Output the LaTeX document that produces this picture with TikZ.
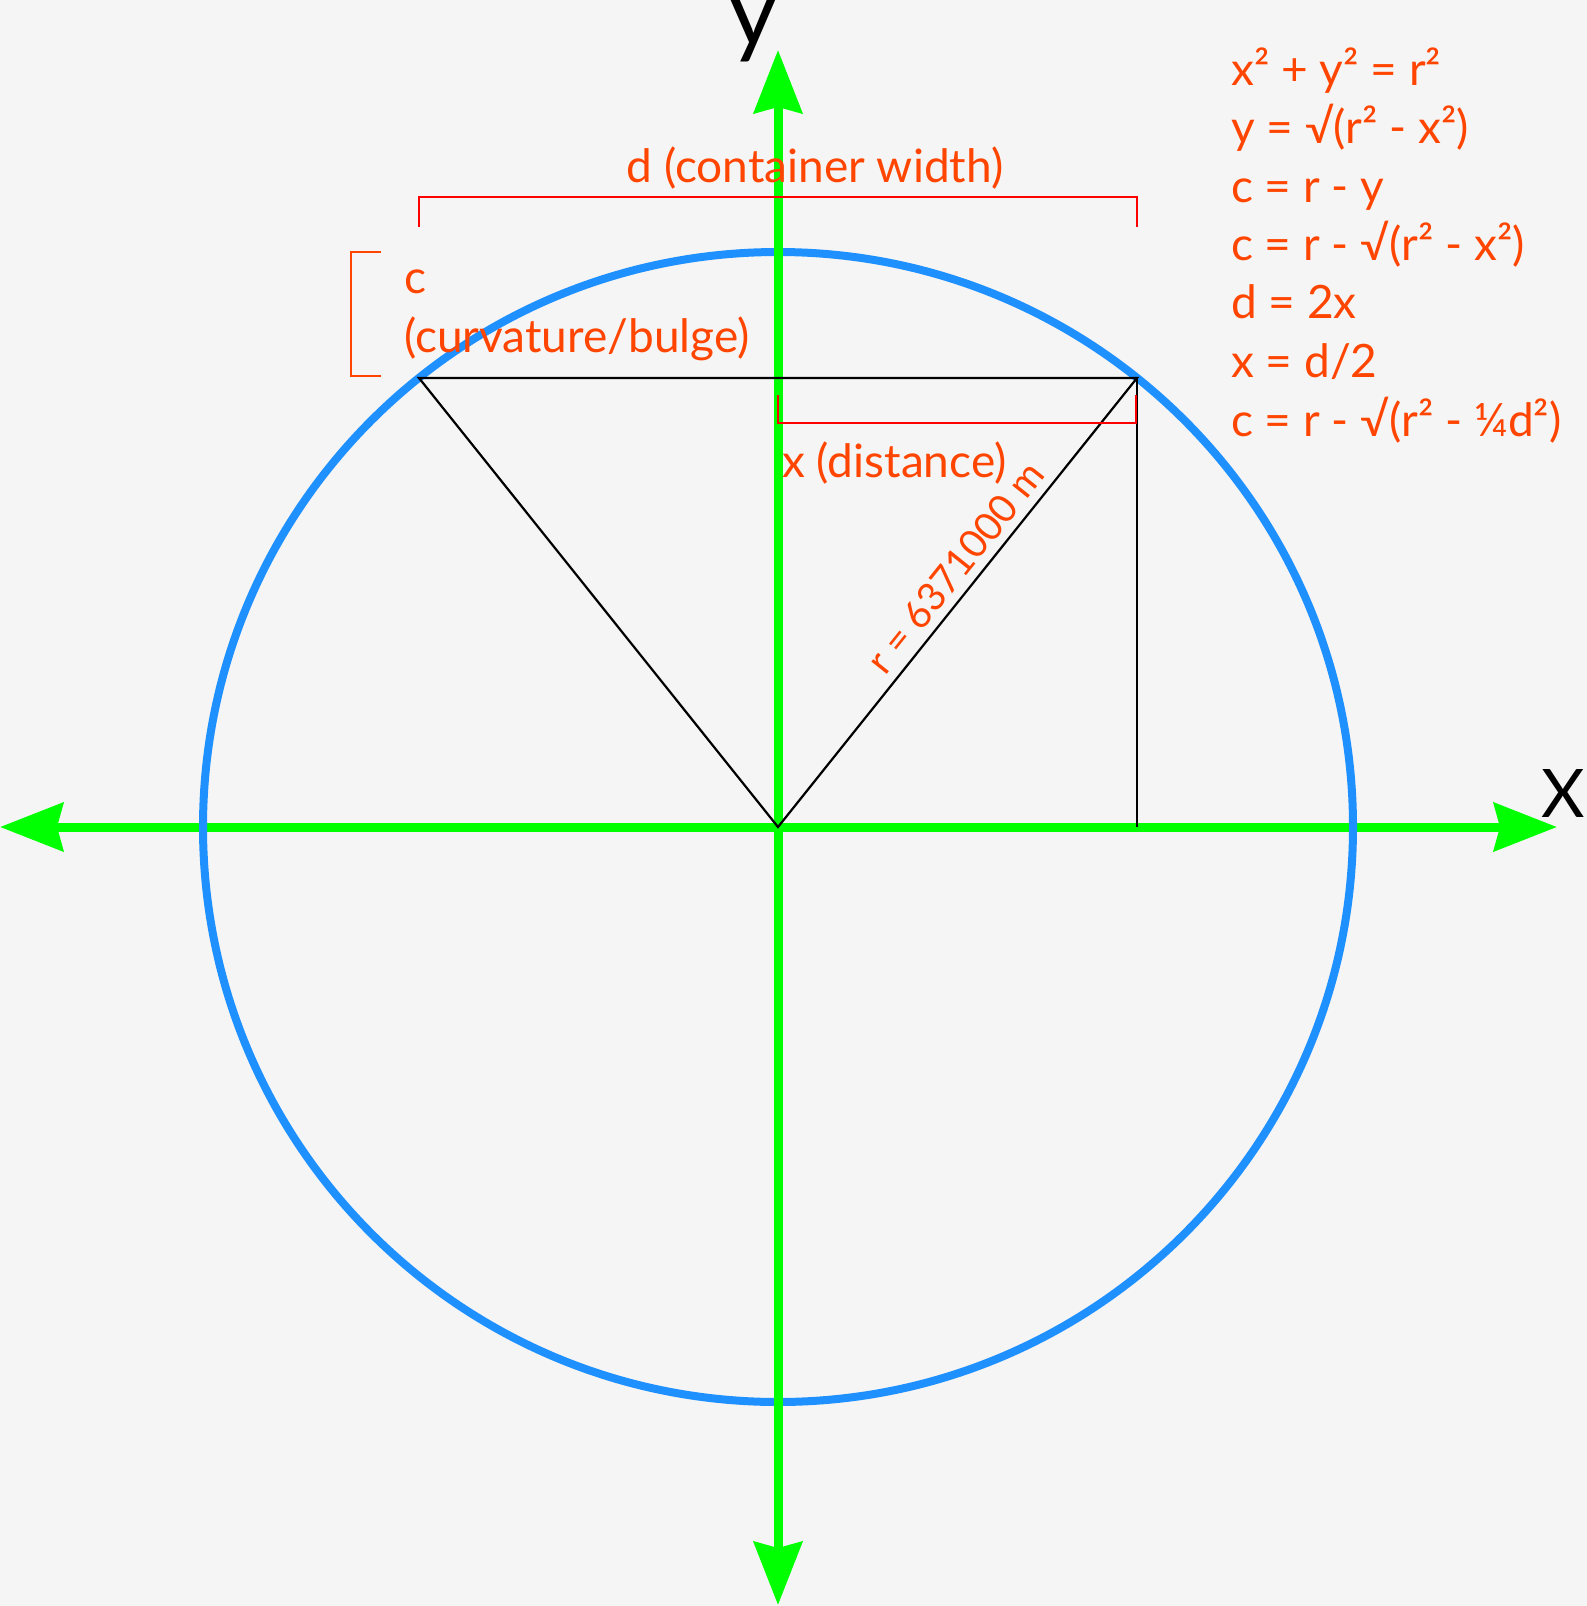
\documentclass[tikz,border=0pt]{standalone}
\usepackage{fontspec}
\setmainfont{Lato}
\usetikzlibrary{arrows.meta}
\definecolor{bg}{HTML}{F5F5F5}
\definecolor{axisgreen}{HTML}{00FF00}
\definecolor{circblue}{HTML}{1E90FF}
\definecolor{txtorange}{HTML}{FF4500}
\definecolor{brred}{HTML}{FF0000}
\tikzset{
  axistip/.tip={Stealth[length=63pt,width=48pt,inset=6pt]},
  axisline/.style={draw=axisgreen, line width=9pt, axistip-axistip},
  circleline/.style={draw=circblue, line width=8pt},
  geomline/.style={draw=black, line width=2.2pt, line join=miter},
  redbracket/.style={draw=brred, line width=2.5pt},
  orangebracket/.style={draw=txtorange, line width=2.5pt},
  lbl/.style={text=txtorange, font=\fontsize{46}{58}\selectfont, inner sep=0pt},
  rlbl/.style={text=txtorange, font=\fontsize{39}{48}\selectfont, inner sep=0pt},
  axislbl/.style={text=black, inner sep=0pt},
}
\begin{document}
\begin{tikzpicture}[x=1pt,y=-1pt]
\fill[bg] (0,0) rectangle (1587,1606);
\useasboundingbox (0,0) rectangle (1587,1606);
% coordinates
\coordinate (O) at (778,827);
\coordinate (P) at (1137,378);
\coordinate (Q) at (419,378);
\coordinate (F) at (1137,827);
\coordinate (yt) at (778,50);
\coordinate (yb) at (778,1605);
\coordinate (xl) at (0,827);
\coordinate (xr) at (1557,827);
% horizontal axis
\draw[axisline] (xl) -- (xr);
% circle
\draw[circleline] (O) circle[radius=575pt];
% vertical axis
\draw[axisline] (yb) -- (yt);
% geometry
\draw[geomline] (Q) -- (P) -- (O) -- cycle;
\draw[geomline] (P) -- (F);
% brackets
\coordinate (dl) at (419,227);
\coordinate (dlt) at (419,197);
\coordinate (drt) at (1137,197);
\coordinate (dr) at (1137,227);
\draw[redbracket] (dl) -- (dlt) -- (drt) -- (dr);
\coordinate (xa) at (778,395);
\coordinate (xb) at (778,423);
\coordinate (xc) at (1136,423);
\coordinate (xd) at (1136,395);
\draw[redbracket] (xa) -- (xb) -- (xc) -- (xd);
\coordinate (ca) at (381,252);
\coordinate (cb) at (351,252);
\coordinate (cc) at (351,376);
\coordinate (cd) at (381,376);
\draw[orangebracket] (ca) -- (cb) -- (cc) -- (cd);
% labels
\node[lbl, anchor=base] (dlabel) at (815,182) {d (container width)};
\node[lbl, anchor=base west] (clabel) at (404,293) {c};
\node[lbl, anchor=base west] (clabel2) at (404,352) {(curvature/bulge)};
\node[lbl, anchor=base west] (xlabel) at (782,477) {x (distance)};
\path (O) -- (P) node[rlbl, sloped, pos=0.545, above=9pt] (rlabel) {r = 6371000 m};
% equations
\node[lbl, anchor=base west] (eq1) at (1231,85) {x² + y² = r²};
\node[lbl, anchor=base west] (eq2) at (1231,143) {y = √(r² - x²)};
\node[lbl, anchor=base west] (eq3) at (1231,202) {c = r - y};
\node[lbl, anchor=base west] (eq4) at (1231,260) {c = r - √(r² - x²)};
\node[lbl, anchor=base west] (eq5) at (1231,318) {d = 2x};
\node[lbl, anchor=base west] (eq6) at (1231,377) {x = d/2};
\node[lbl, anchor=base west] (eq7) at (1231,436) {c = r - √(r² - ¼d²)};
% axis labels
\node[axislbl, font=\fontsize{96}{110}\selectfont, anchor=base west] (ylabel) at (728,45) {y};
\node[axislbl, font=\fontsize{67}{80}\selectfont, anchor=base west] (Xlabel) at (1541,817) {X};
\end{tikzpicture}
\end{document}
